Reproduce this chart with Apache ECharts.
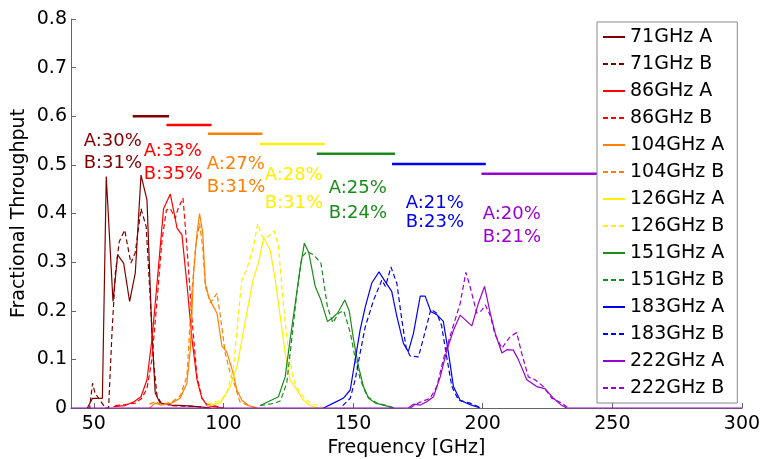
<!DOCTYPE html>
<html>
<head>
<meta charset="utf-8">
<script src="https://cdn.jsdelivr.net/npm/echarts@6/dist/echarts.min.js"></script>
<style>
  html, body { margin: 0; padding: 0; background: #fff; }
  #chart { width: 762px; height: 459px; }
</style>
</head>
<body>
<div id="chart"></div>
<script>
// bands, in the same order as the legend
const bandNames = ['71GHz', '86GHz', '104GHz', '126GHz', '151GHz', '183GHz', '222GHz']
const xTicks = [50, 100, 150, 200, 250, 300]

// measured throughput curves [GHz, fraction], A = solid, B = dashed
const f71A = [[47.5, 0], [49.5, 0.02], [51.5, 0.02], [53.3, 0.02], [54.8, 0.476], [57.4, 0.219], [59.2, 0.315], [61.5, 0.298], [63.8, 0.219], [66, 0.278], [68.2, 0.479], [70.5, 0.428], [72.4, 0.154], [73.7, 0.031], [75.6, 0.01], [80, 0.006], [85, 0.005], [90, 0.003], [95, 0]]
const f71B = [[47.5, 0], [48.4, 0], [49.5, 0.051], [50.5, 0.03], [52.3, 0.017], [54.4, 0], [55.7, 0], [57, 0.154], [58.3, 0.277], [59.8, 0.342], [61.9, 0.366], [64.3, 0.298], [66, 0.32], [68.2, 0.41], [70.2, 0.373], [71.8, 0.222], [73.1, 0.092], [74.4, 0.024], [76, 0.01], [80, 0.005], [90, 0.003], [95, 0]]
const f86A = [[57.6, 0.003], [62, 0.005], [65.2, 0.012], [68.2, 0.023], [70.5, 0.058], [72.4, 0.14], [74.4, 0.257], [76.9, 0.41], [79.5, 0.44], [81, 0.4], [82.1, 0.37], [84, 0.356], [86, 0.25], [87.9, 0.14], [89.8, 0.058], [91.7, 0.02], [93.7, 0.005], [100, 0]]
const f86B = [[58.2, 0.005], [62, 0.007], [66, 0.01], [68.5, 0.02], [70.5, 0.04], [72.4, 0.1], [74.4, 0.222], [76.3, 0.346], [78, 0.407], [79.5, 0.41], [81.4, 0.39], [82.5, 0.41], [84.4, 0.432], [86, 0.325], [87.9, 0.181], [89.8, 0.065], [91.7, 0.02], [93.7, 0.008], [100, 0]]
const f104A = [[71.5, 0], [73.7, 0.01], [76, 0.006], [80, 0.01], [83.3, 0.02], [85.9, 0.051], [87.2, 0.12], [88.5, 0.277], [89.8, 0.36], [90.8, 0.4], [92, 0.36], [93, 0.257], [94.3, 0.229], [96, 0.21], [97.5, 0.195], [99.4, 0.128], [101.3, 0.115], [103.3, 0.08], [105.2, 0.037], [107.1, 0.016], [109.7, 0.005], [113, 0]]
const f104B = [[71.5, 0.008], [73.7, 0.013], [76, 0.008], [80, 0.012], [83.3, 0.025], [85.9, 0.065], [87.8, 0.236], [89.2, 0.33], [90.8, 0.38], [92, 0.33], [93, 0.25], [95, 0.216], [97.5, 0.236], [98.8, 0.19], [100.7, 0.113], [102.6, 0.072], [104.5, 0.045], [106.4, 0.012], [109.7, 0.005], [113, 0]]
const f126A = [[93.6, 0.005], [98.8, 0.01], [102.6, 0.044], [105.2, 0.085], [107.1, 0.14], [109, 0.195], [111.4, 0.263], [113.5, 0.298], [115.5, 0.35], [118, 0.325], [120, 0.263], [121.9, 0.188], [123.8, 0.113], [125.7, 0.058], [128.3, 0.037], [130.8, 0.016], [133.4, 0.005], [136.6, 0]]
const f126B = [[93.6, 0.008], [98.8, 0.015], [101.3, 0.03], [103.9, 0.085], [105.8, 0.195], [107.1, 0.263], [109, 0.285], [111.6, 0.332], [113.2, 0.379], [114.9, 0.353], [116.8, 0.35], [119.6, 0.364], [121.2, 0.332], [123.2, 0.208], [125.1, 0.113], [127, 0.058], [129.6, 0.03], [133.4, 0.01], [136.6, 0.005], [139, 0]]
const f151A = [[114.2, 0.005], [118, 0.015], [121.2, 0.023], [123.8, 0.064], [125.7, 0.14], [127.7, 0.216], [129.3, 0.277], [131.2, 0.339], [132.9, 0.32], [135.4, 0.25], [137.6, 0.222], [140.1, 0.178], [142, 0.185], [144, 0.195], [146.8, 0.222], [148.5, 0.2], [150.2, 0.14], [152.1, 0.085], [154, 0.044], [156, 0.02], [158.6, 0.01], [162.4, 0.005], [165.6, 0]]
const f151B = [[114.2, 0.005], [120, 0.01], [122, 0.015], [124.4, 0.051], [126.3, 0.14], [128.3, 0.236], [130.2, 0.31], [132.2, 0.322], [134.8, 0.315], [137.6, 0.298], [140.1, 0.208], [142.2, 0.175], [144.4, 0.195], [146.4, 0.2], [149, 0.153], [150.9, 0.099], [152.8, 0.058], [155.4, 0.024], [159.2, 0.01], [163.1, 0.005], [166, 0]]
const f183A = [[138.6, 0], [142.4, 0.01], [146.2, 0.02], [148.9, 0.037], [150.8, 0.099], [152.7, 0.16], [154.7, 0.208], [157.2, 0.257], [160, 0.28], [162.4, 0.26], [164.9, 0.24], [166.9, 0.188], [169.4, 0.133], [171.3, 0.116], [173.3, 0.154], [175.9, 0.23], [177.8, 0.23], [180, 0.198], [182.3, 0.192], [184.8, 0.178], [186.8, 0.113], [188.7, 0.044], [191.3, 0.016], [195.1, 0.007], [199, 0]]
const f183B = [[146, 0.005], [148.9, 0.02], [150.8, 0.058], [152.7, 0.113], [154.7, 0.167], [157.9, 0.222], [161.1, 0.263], [162.5, 0.25], [164.6, 0.29], [166.9, 0.256], [168.8, 0.181], [170.5, 0.123], [172, 0.107], [175.2, 0.105], [177.8, 0.157], [180, 0.203], [182.3, 0.195], [184.1, 0.17], [186.1, 0.105], [188.1, 0.044], [190.7, 0.016], [195.1, 0.01], [199.6, 0]]
const f222A = [[41.2, 0], [171.3, 0], [173.3, 0.008], [175.9, 0.006], [178.4, 0.013], [181, 0.023], [183.6, 0.064], [186.2, 0.119], [188.7, 0.16], [191.3, 0.191], [195.8, 0.169], [198.3, 0.215], [200.7, 0.25], [202.9, 0.195], [204.8, 0.154], [207.4, 0.113], [209.3, 0.12], [211.8, 0.119], [213.7, 0.1], [217, 0.058], [220.8, 0.044], [224, 0.04], [227.3, 0.02], [230.3, 0.006], [232.3, 0], [300, 0]]
const f222B = [[172, 0], [175, 0.01], [179.7, 0.02], [182.3, 0.044], [184.8, 0.1], [188.1, 0.16], [191.3, 0.215], [193.5, 0.279], [195.1, 0.25], [197.7, 0.195], [199.5, 0.2], [201, 0.212], [202.9, 0.19], [204.8, 0.15], [207.4, 0.123], [210.6, 0.147], [213.1, 0.155], [215, 0.113], [217.6, 0.064], [220.2, 0.058], [223.4, 0.044], [226.7, 0.02], [230.5, 0.01], [233, 0]]

const curvesA = [f71A, f86A, f104A, f126A, f151A, f183A, f222A]
const curvesB = [f71B, f86B, f104B, f126B, f151B, f183B, f222B]

// band edges (horizontal bars) and their levels
const bandLo = [65, 78, 94, 114, 136, 165, 199.5]
const bandHi = [79, 95.4, 115, 139, 166.2, 201.2, 250]
const bandLevel = [0.6, 0.582, 0.564, 0.543, 0.523, 0.502, 0.482]

// efficiency annotations
const textA = ['A:30%', 'A:33%', 'A:27%', 'A:28%', 'A:25%', 'A:21%', 'A:20%']
const textB = ['B:31%', 'B:35%', 'B:31%', 'B:31%', 'B:24%', 'B:23%', 'B:21%']
const labelX = [45.9, 69.1, 93.4, 115.7, 140.4, 170.1, 199.8]
const labelAY = [0.549, 0.527, 0.502, 0.479, 0.451, 0.420, 0.399]
const labelBY = [0.504, 0.481, 0.453, 0.420, 0.401, 0.381, 0.352]

const COLORS = ['#800000', '#ff0000', '#ff8000', '#ffee00', '#1a8c1a', '#0000ee', '#9a00d0']
const FONT = 'DejaVu Sans'
const NO_SYMBOL = { color: 'rgba(0,0,0,0)', borderWidth: 0 }

const chart = echarts.init(document.getElementById('chart'))

const series = []
const legendNames = []
bandNames.forEach((b, i) => {
  legendNames.push(b + ' A', b + ' B')
  series.push({
    name: b + ' A',
    type: 'line',
    data: curvesA[i],
    symbol: 'none',
    lineStyle: { color: COLORS[i], width: 1.2, type: 'solid' },
    itemStyle: NO_SYMBOL,
  })
  series.push({
    name: b + ' B',
    type: 'line',
    data: curvesB[i],
    symbol: 'none',
    lineStyle: { color: COLORS[i], width: 1.2, type: [5, 3] },
    itemStyle: NO_SYMBOL,
  })
})

// band bars with their A/B labels
bandNames.forEach((b, i) => {
  series.push({
    name: 'band ' + b,
    type: 'line',
    data: [[bandLo[i], bandLevel[i]], [bandHi[i], bandLevel[i]]],
    symbol: 'none',
    lineStyle: { color: COLORS[i], width: 2.5 },
    markPoint: {
      symbol: 'circle',
      symbolSize: 1,
      itemStyle: { color: 'rgba(0,0,0,0)' },
      silent: true,
      label: {
        show: true,
        position: 'right',
        distance: 0,
        formatter: '{b}',
        color: COLORS[i],
        fontSize: 18,
        fontFamily: FONT,
      },
      data: [
        { name: textA[i], coord: [labelX[i], labelAY[i]] },
        { name: textB[i], coord: [labelX[i], labelBY[i]] },
      ],
    },
  })
})

chart.setOption({
  animation: false,
  grid: { left: 71, right: 20, top: 19, bottom: 51, outerBoundsMode: 'none' },
  legend: {
    data: legendNames,
    orient: 'vertical',
    left: 597,
    top: 22,
    itemWidth: 22,
    itemHeight: 20,
    itemGap: 7,
    padding: [5, 13, 5, 5],
    backgroundColor: '#fff',
    borderColor: '#888',
    borderWidth: 1,
    borderRadius: 0,
    selectedMode: false,
    textStyle: { color: '#000', fontSize: 19, fontFamily: FONT, lineHeight: 20 },
    z: 10,
  },
  xAxis: {
    type: 'value',
    min: 41.2,
    max: 300,
    name: 'Frequency [GHz]',
    nameLocation: 'middle',
    nameGap: 30,
    nameTextStyle: { color: '#000', fontSize: 19, fontFamily: FONT },
    axisLine: { show: true, lineStyle: { color: '#666' } },
    axisTick: { show: true, inside: true, length: 5, customValues: xTicks, lineStyle: { color: '#666' } },
    axisLabel: { customValues: xTicks, color: '#000', fontSize: 19, fontFamily: FONT, margin: 7 },
    splitLine: { show: false },
  },
  yAxis: {
    type: 'value',
    min: 0,
    max: 0.8,
    interval: 0.1,
    name: 'Fractional Throughput',
    nameLocation: 'middle',
    nameGap: 42,
    nameMoveOverlap: false,
    nameTextStyle: { color: '#000', fontSize: 19, fontFamily: FONT },
    axisLine: { show: true, lineStyle: { color: '#666' } },
    axisTick: { show: true, inside: true, length: 5, lineStyle: { color: '#666' } },
    axisLabel: {
      color: '#000',
      fontSize: 19,
      fontFamily: FONT,
      margin: 4,
      formatter: (v) => (v === 0 ? '0' : v.toFixed(1)),
    },
    splitLine: { show: false },
  },
  series,
})

window.addEventListener('resize', () => chart.resize())
</script>
</body>
</html>
